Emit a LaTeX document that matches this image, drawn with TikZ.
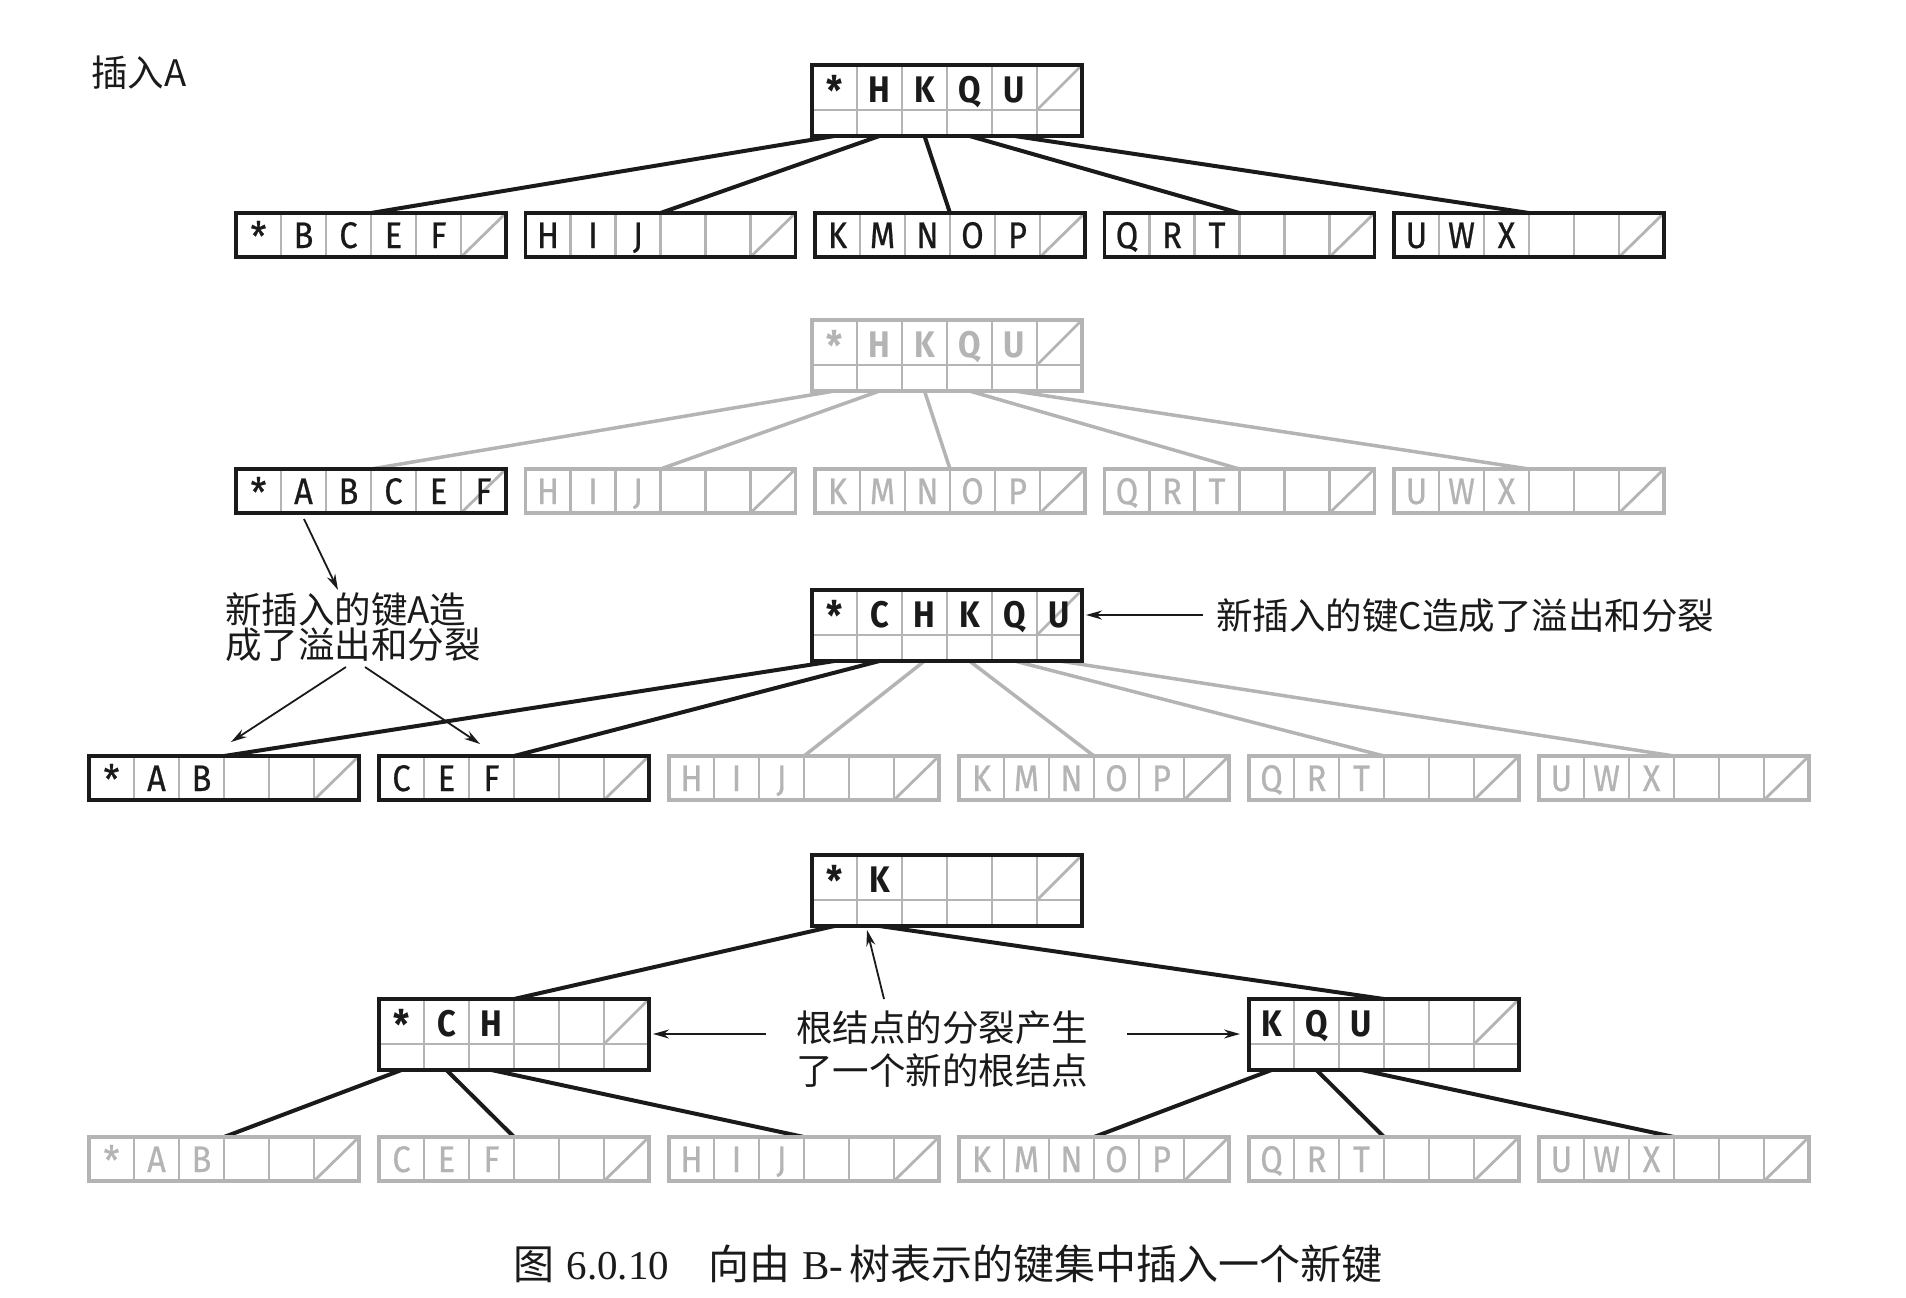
\documentclass[tikz,border=0pt]{standalone}
\usepackage{fontspec}
\setmainfont{Liberation Serif}
\newfontfamily\keyfont[FakeStretch=0.88]{Fira Sans}
\newfontfamily\leaffont[FakeStretch=0.88,FakeBold=0.6]{Fira Sans}
\newfontfamily\cjk{Noto Sans CJK SC}
\usetikzlibrary{arrows.meta}
\definecolor{lg}{RGB}{180,180,180}
\definecolor{ink}{RGB}{26,26,26}
\pgfdeclarelayer{edges}
\pgfsetlayers{edges,main}
\tikzset{
  pageframe/.style={draw, line width=3.5pt, minimum width=270, anchor=north west, inner sep=0, outer sep=0},
  gridln/.style={draw=lg, line width=2.8pt},
  tree/.style={draw=ink, line width=4pt},
  gtree/.style={draw=lg, line width=3.5pt},
  callout/.style={draw=ink, line width=1.8pt, -{Stealth[length=16pt,width=9pt]}},
  keyb/.style={font=\keyfont\bfseries\fontsize{37}{37}\selectfont, anchor=base, inner sep=0},
  keyr/.style={font=\leaffont\fontsize{37}{37}\selectfont, anchor=base, inner sep=0},
  lbl/.style={font=\cjk\fontsize{36.5}{36.5}\selectfont, inner sep=0, text=ink},
  capt/.style={font=\fontsize{41}{41}\selectfont, inner sep=0, text=ink}
}
\newcommand\astk{\raisebox{-3pt}{\scalebox{1.1}{*}}}
% internal page: name, x, y, colour, keys
\newcommand\ipage[5]{%
  \foreach \i in {1,...,5}{\draw[gridln] (#2+\i*45,#3) -- (#2+\i*45,#3+71);}
  \draw[gridln] (#2,#3+45) -- (#2+270,#3+45);
  \draw[gridln] (#2+225,#3+45) -- (#2+270,#3);
  \foreach \k [count=\i from 0] in {#5}{\node[keyb,text=#4] (#1-k\i) at (#2+22.5+\i*45,#3+37) {\k};}
  \node[pageframe,draw=#4,minimum height=71] (#1) at (#2,#3) {};
  \foreach \i in {0,...,5}{\coordinate (#1-p\i) at (#2+22.5+\i*45,#3+71);}
}
% leaf page: name, x, y, colour, keys
\newcommand\lpage[5]{%
  \foreach \i in {1,...,5}{\draw[gridln] (#2+\i*45,#3) -- (#2+\i*45,#3+44);}
  \draw[gridln] (#2+225,#3+44) -- (#2+270,#3);
  \foreach \k [count=\i from 0] in {#5}{\node[keyr,text=#4] (#1-k\i) at (#2+22.5+\i*45,#3+35) {\k};}
  \node[pageframe,draw=#4,minimum height=44] (#1) at (#2,#3) {};
}
\begin{document}
\begin{tikzpicture}[x=1pt,y=-1pt]
\useasboundingbox (0,0) rectangle (1906,1298);

% ---------- row 1 ----------
\ipage{r1}{812}{65}{ink}{\astk,H,K,Q,U}
\lpage{a1}{236}{213}{ink}{\astk,B,C,E,F}
\lpage{a2}{525.5}{213}{ink}{H,I,J}
\lpage{a3}{815}{213}{ink}{K,M,N,O,P}
\lpage{a4}{1104.5}{213}{ink}{Q,R,T}
\lpage{a5}{1394}{213}{ink}{U,W,X}
\begin{pgfonlayer}{edges}
\draw[tree] (r1-p0) -- (a1.north);
\draw[tree] (r1-p1) -- (a2.north);
\draw[tree] (r1-p2) -- (a3.north);
\draw[tree] (r1-p3) -- (a4.north);
\draw[tree] (r1-p4) -- (a5.north);
\end{pgfonlayer}

% ---------- row 2 ----------
\ipage{r2}{812}{320}{lg}{\astk,H,K,Q,U}
\lpage{b1}{236}{469}{ink}{\astk,A,B,C,E,F}
\lpage{b2}{525.5}{469}{lg}{H,I,J}
\lpage{b3}{815}{469}{lg}{K,M,N,O,P}
\lpage{b4}{1104.5}{469}{lg}{Q,R,T}
\lpage{b5}{1394}{469}{lg}{U,W,X}
\begin{pgfonlayer}{edges}
\draw[gtree] (r2-p0) -- (b1.north);
\draw[gtree] (r2-p1) -- (b2.north);
\draw[gtree] (r2-p2) -- (b3.north);
\draw[gtree] (r2-p3) -- (b4.north);
\draw[gtree] (r2-p4) -- (b5.north);
\end{pgfonlayer}

% ---------- row 3 ----------
\ipage{r3}{812}{590}{ink}{\astk,C,H,K,Q,U}
\lpage{c1}{89}{756}{ink}{\astk,A,B}
\lpage{c2}{379}{756}{ink}{C,E,F}
\lpage{c3}{669}{756}{lg}{H,I,J}
\lpage{c4}{959}{756}{lg}{K,M,N,O,P}
\lpage{c5}{1249}{756}{lg}{Q,R,T}
\lpage{c6}{1539}{756}{lg}{U,W,X}
\begin{pgfonlayer}{edges}
\draw[tree] (r3-p0) -- (c1.north);
\draw[tree] (r3-p1) -- (c2.north);
\draw[gtree] (r3-p2) -- (c3.north);
\draw[gtree] (r3-p3) -- (c4.north);
\draw[gtree] (r3-p4) -- (c5.north);
\draw[gtree] (r3-p5) -- (c6.north);
\end{pgfonlayer}

% ---------- row 4 ----------
\ipage{r4}{812}{855}{ink}{\astk,K}
\ipage{d1}{379}{999}{ink}{\astk,C,H}
\ipage{d2}{1249}{999}{ink}{K,Q,U}
\lpage{e1}{89}{1137}{lg}{\astk,A,B}
\lpage{e2}{379}{1137}{lg}{C,E,F}
\lpage{e3}{669}{1137}{lg}{H,I,J}
\lpage{e4}{959}{1137}{lg}{K,M,N,O,P}
\lpage{e5}{1249}{1137}{lg}{Q,R,T}
\lpage{e6}{1539}{1137}{lg}{U,W,X}
\begin{pgfonlayer}{edges}
\draw[tree] (r4-p0) -- (d1.north);
\draw[tree] (r4-p1) -- (d2.north);
\draw[tree] (d1-p0) -- (e1.north);
\draw[tree] (d1-p1) -- (e2.north);
\draw[tree] (d1-p2) -- (e3.north);
\draw[tree] (d2-p0) -- (e4.north);
\draw[tree] (d2-p1) -- (e5.north);
\draw[tree] (d2-p2) -- (e6.north);
\end{pgfonlayer}

% ---------- labels ----------
\node[lbl,anchor=base west] (t0) at (91,87) {插入A};
\node[lbl,anchor=base west] (tA1) at (225,623) {新插入的键A造};
\node[lbl,anchor=base west] (tA2) at (225,658) {成了溢出和分裂};
\node[lbl,anchor=base west] (tC) at (1216,629) {新插入的键C造成了溢出和分裂};
\node[lbl,anchor=base] (tR1) at (942,1041) {根结点的分裂产生};
\node[lbl,anchor=base] (tR2) at (942,1084) {了一个新的根结点};
\node[capt,anchor=base] (cap) at (948,1279) {{\cjk 图}\hspace{0.3em}6.0.10\hspace{0.95em}{\cjk 向由}\hspace{0.3em}B-\hspace{0.15em}{\cjk 树表示的键集中插入一个新键}};

% ---------- callout arrows ----------
\coordinate (ca1) at (304,519);  \coordinate (ca2) at (338,590);
\coordinate (cb1) at (346,667);  \coordinate (cb2) at (231,742);
\coordinate (cc1) at (365,667);  \coordinate (cc2) at (480,744);
\coordinate (cd1) at (1203,615); \coordinate (cd2) at (1086,615);
\coordinate (ce1) at (884,999);  \coordinate (ce2) at (867,930);
\coordinate (cf1) at (766,1034); \coordinate (cf2) at (653,1034);
\coordinate (cg1) at (1127,1034);\coordinate (cg2) at (1240,1034);
\draw[callout] (ca1) -- (ca2);
\draw[callout] (cb1) -- (cb2);
\draw[callout] (cc1) -- (cc2);
\draw[callout] (cd1) -- (cd2);
\draw[callout] (ce1) -- (ce2);
\draw[callout] (cf1) -- (cf2);
\draw[callout] (cg1) -- (cg2);
\end{tikzpicture}
\end{document}
